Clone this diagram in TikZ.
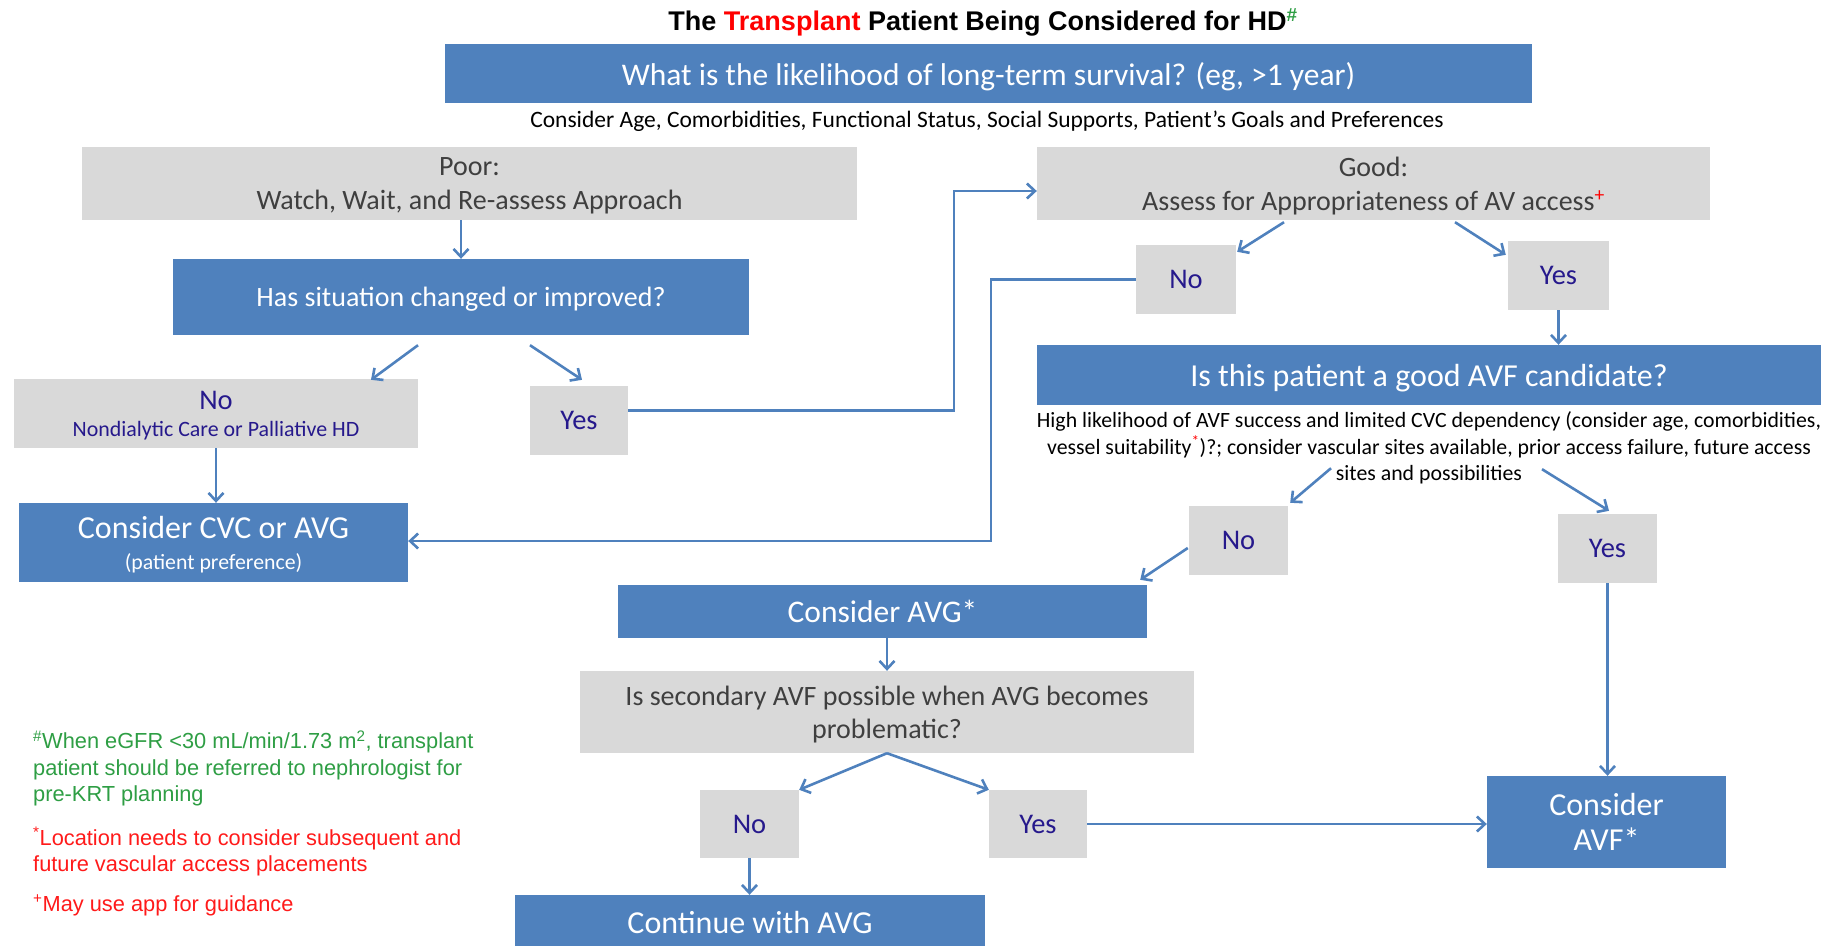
\documentclass[tikz,border=0pt]{standalone}
\usepackage{fontspec}
\setmainfont{Carlito}
\newfontfamily\arialfont{Liberation Sans}
\usetikzlibrary{arrows.meta}
\definecolor{boxblue}{HTML}{4F81BD}
\definecolor{boxgrey}{HTML}{D9D9D9}
\definecolor{ansnavy}{HTML}{26198C}
\definecolor{greytext}{HTML}{3F3F3F}
\definecolor{notegreen}{HTML}{2E9E44}
\definecolor{notered}{HTML}{FF1A1A}
\newcommand{\fsz}[2]{\fontsize{#1}{#2}\selectfont}
\begin{document}
\begin{tikzpicture}[x=1pt,y=-1pt,
  bluebox/.style={fill=boxblue, text=white, inner sep=0pt, text depth=0pt, align=center},
  greybox/.style={fill=boxgrey, text=greytext, inner sep=0pt, text depth=0pt, align=center},
  ansbox/.style={fill=boxgrey, text=ansnavy, inner sep=0pt, text depth=0pt, align=center},
  flow/.style={draw=boxblue, line width=2.6pt, -{Straight Barb[length=8pt,width=15pt,line width=2.6pt]}},
  note/.style={anchor=north west, inner sep=0pt, align=left, font=\arialfont\fsz{21.8}{26.3}}]
\useasboundingbox (0,0) rectangle (1835,945);

% heading
\node[inner sep=0pt, font=\arialfont\bfseries\fsz{27}{32}] (title) at (983,22)
  {The \textcolor{red}{Transplant} Patient Being Considered for HD\textsuperscript{\textcolor{notegreen}{\#}}};

% top question
\node[bluebox, minimum width=1087, minimum height=59, font=\fsz{31.5}{36}] (top) at (988.5,73.5)
  {What is the likelihood of long-term survival? (eg, >1 year)};
\node[inner sep=0pt, font=\fsz{23.5}{28}] (topnote) at (987,121)
  {Consider Age, Comorbidities, Functional Status, Social Supports, Patient’s Goals and Preferences};

% poor branch
\node[greybox, minimum width=775, minimum height=73, font=\fsz{28}{34}] (poor) at (469.5,183.5)
  {Poor:\\Watch, Wait, and Re-assess Approach};
\node[bluebox, minimum width=576, minimum height=76, font=\fsz{28}{32}] (changed) at (461,297)
  {Has situation changed or improved?};
\node[ansbox, minimum width=404, minimum height=69, font=\fsz{28.5}{30}] (noL) at (216,413.5)
  {No\\[-3pt]\fsz{21.9}{24}Nondialytic Care or Palliative HD};
\node[ansbox, minimum width=98, minimum height=69, font=\fsz{28.5}{30}] (yesL) at (579,420.5) {Yes};
\node[bluebox, minimum width=389, minimum height=79, font=\fsz{32}{33}] (cvc) at (213.5,542.5)
  {Consider CVC or AVG\\[-2pt]\fsz{21.8}{24}(patient preference)};

% good branch
\node[greybox, minimum width=673, minimum height=73, font=\fsz{28}{34}] (good) at (1373.5,183.5)
  {Good:\\Assess for Appropriateness of AV access\textsuperscript{\textcolor{red}{+}}};
\node[ansbox, minimum width=100, minimum height=69, font=\fsz{28.5}{30}] (noR) at (1186,279.5) {No};
\node[ansbox, minimum width=101, minimum height=69, font=\fsz{28.5}{30}] (yesR) at (1558.5,275.5) {Yes};
\node[bluebox, minimum width=784, minimum height=60, font=\fsz{32}{36}] (avfq) at (1429,375)
  {Is this patient a good AVF candidate?};
\node[inner sep=0pt, align=center, font=\fsz{21.8}{26.5}] (avfnote) at (1429,448)
  {High likelihood of AVF success and limited CVC dependency (consider age, comorbidities,\\
   vessel suitability\textsuperscript{\textcolor{red}{*}})?; consider vascular sites available, prior access failure, future access\\
   sites and possibilities};
\node[ansbox, minimum width=99, minimum height=69, font=\fsz{28.5}{30}] (noM) at (1238.5,540.5) {No};
\node[ansbox, minimum width=99, minimum height=69, font=\fsz{28.5}{30}] (yesM) at (1607.5,548.5) {Yes};
\node[bluebox, minimum width=529, minimum height=53, font=\fsz{31.5}{34}] (avg) at (882.5,611.5) {Consider AVG*};
\node[greybox, minimum width=614, minimum height=82, font=\fsz{28}{33}] (second) at (887,712)
  {Is secondary AVF possible when AVG becomes\\problematic?};
\node[ansbox, minimum width=99, minimum height=68, font=\fsz{28.5}{30}] (noB) at (749.5,824) {No};
\node[ansbox, minimum width=98, minimum height=68, font=\fsz{28.5}{30}] (yesB) at (1038,824) {Yes};
\node[bluebox, minimum width=470, minimum height=54, font=\fsz{32}{34}] (cont) at (750,922) {Continue with AVG};
\node[bluebox, minimum width=239, minimum height=92, font=\fsz{32}{35}] (avfs) at (1606.5,822) {Consider\\AVF*};

% footnotes
\node[note, text=notegreen] (n1) at (33,730.5)
  {\textsuperscript{\#}When eGFR <30 mL/min/1.73 m\textsuperscript{2}, transplant\\patient should be referred to nephrologist for\\pre-KRT planning};
\node[note, text=notered] (n2) at (33,827)
  {\textsuperscript{*}Location needs to consider subsequent and\\future vascular access placements};
\node[note, text=notered] (n3) at (33,894.5)
  {\textsuperscript{+}May use app for guidance};

% connectors
\coordinate (up) at (954,191);
\coordinate (down) at (991,541);
\draw[flow] (poor.south -| changed.north) -- (changed.north);
\draw[flow] ([shift={(-43,10)}]changed.south) -- ([shift={(155,1)}]noL.north);
\draw[flow] ([shift={(69,10)}]changed.south) -- ([shift={(3,-6)}]yesL.north);
\draw[flow] (noL.south) -- (noL.south |- cvc.north);
\draw[flow] ([yshift=10]yesL.east) -| (up) -- (up -| good.west);
\draw[flow] (noR.west) -| (down) -- (down -| cvc.east);
\draw[flow] ([shift={(-89.5,2)}]good.south) -- ([shift={(1,7)}]noR.north east);
\draw[flow] ([shift={(81.5,2)}]good.south) -- ([shift={(-2,14)}]yesR.north west);
\draw[flow] (yesR.south) -- (yesR.south |- avfq.north);
\draw[flow] ([shift={(-98,63)}]avfq.south) -- ([shift={(2,-3)}]noM.north east);
\draw[flow] ([shift={(113,64)}]avfq.south) -- ([shift={(1.5,-3)}]yesM.north);
\draw[flow] ([shift={(-1,7.5)}]noM.west) -- ([shift={(-7,-5)}]avg.north east);
\draw[flow] (yesM.south) -- (yesM.south |- avfs.north);
\draw[flow] (avg.south -| second.north) -- (second.north);
\draw[flow] (second.south) -- (noB.north east);
\draw[flow] (second.south) -- (yesB.north west);
\draw[flow] (noB.south) -- (noB.south |- cont.north);
\draw[flow] (yesB.east) -- (yesB.east -| avfs.west);
\end{tikzpicture}
\end{document}
